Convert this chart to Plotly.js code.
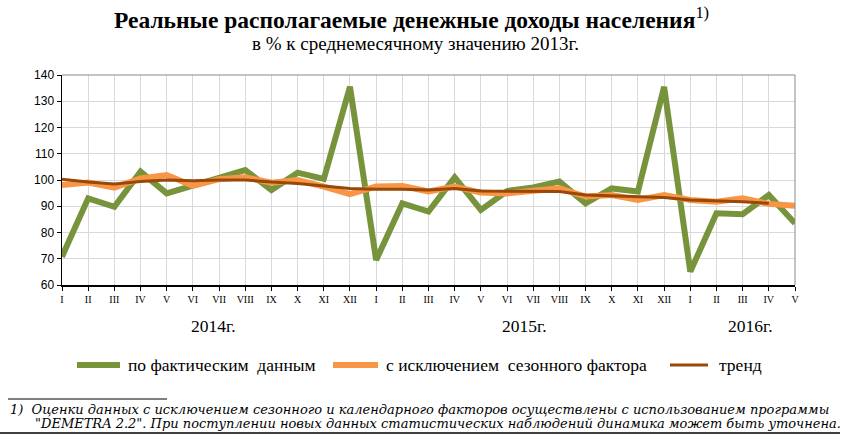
<!DOCTYPE html>
<html><head><meta charset="utf-8">
<script src="https://cdn.plot.ly/plotly-3.0.1.min.js"></script>
<style>html,body{margin:0;padding:0;background:#fff}#chart{width:845px;height:435px}</style>
</head><body><div id="chart"></div>
<script>
const months = ["I","II","III","IV","V","VI","VII","VIII","IX","X","XI","XII",
  "I","II","III","IV","V","VI","VII","VIII","IX","X","XI","XII",
  "I","II","III","IV","V"];
const actual = [70.8,93,89.8,103.2,94.9,97.8,100.6,103.8,96.2,102.8,100.4,135.5,
  69.5,91.1,88,101,88.6,95.8,97.2,99.4,91.1,96.8,95.6,135.5,
  65.1,87.3,87,94.3,83.5];
const seasonal = [98.1,99,97.1,100.6,101.9,97.8,100.3,101,99,100,97.5,94.6,
  97.5,97.7,95.6,97.5,95.2,94.9,95.9,96.8,93.7,94.3,92.4,94.3,
  92.4,91.7,93,90.9,90.2];
const trend = [100.3,99.2,98.5,99.4,100,99.7,100,100,99.2,98.7,97.7,96.8,
  96.5,96.5,96.2,96.8,95.8,95.8,95.8,95.6,94.3,94,93.7,93.3,
  92.4,92.1,91.7,91.1];
const years = ["2014г.","2015г.","2016г."];
const yearPos = [5.77,17.65,26.3];
const names = ["по фактическим  данным","с исключением  сезонного фактора","тренд"];
const colors = ['#77933C','#F79646','#984807'];
const widths = [6,6,3];

const W = 845, H = 435, ML = 62, MR = 50, MT = 75, MB = 150;
const pw = W - ML - MR, ph = H - MT - MB;
const px = v => (v - ML) / pw;
const py = v => (H - MB - v) / ph;

const idx = months.map((m,i)=>i);
const series = [actual, seasonal, trend];
const traces = series.map((s,k)=>({x: idx.slice(0,s.length), y: s, name: names[k], type:'scatter', mode:'lines',
  line:{color:colors[k], width:widths[k]}, showlegend:false}));

const serif = "'Liberation Serif', 'Times New Roman', serif";
const annotations = [];
annotations.push({xref:'paper', yref:'paper', x:px(112), y:py(18), xanchor:'left', yanchor:'middle', showarrow:false,
  text:'<b>Реальные располагаемые денежные доходы населения</b><sup>1)</sup>', font:{family:serif, size:23.5, color:'#000'}});
annotations.push({xref:'paper', yref:'paper', x:px(415), y:py(43), xanchor:'center', yanchor:'middle', showarrow:false,
  text:'в % к среднемесячному значению 2013г.', font:{family:serif, size:19, color:'#000'}});
years.forEach((t,i)=>annotations.push({x:yearPos[i], xref:'x', y:py(326), yref:'paper', text:t, showarrow:false,
  font:{family:serif, size:17.5, color:'#000'}, xanchor:'center', yanchor:'middle'}));
// legend
const swatch = [[77,120],[333,378],[670,708]];
const textX = [126,384,717];
const shapes = [
  {type:'line', xref:'paper', yref:'paper', x0:0, x1:1, y0:1, y1:1, line:{color:'#888', width:1}},
  {type:'line', xref:'paper', yref:'paper', x0:1, x1:1, y0:0, y1:1, line:{color:'#888', width:1}},
  {type:'line', xref:'paper', yref:'paper', x0:px(8), x1:px(167), y0:py(399), y1:py(399), line:{color:'#000', width:1}},
  {type:'line', xref:'paper', yref:'paper', x0:px(0), x1:px(840), y0:py(433), y1:py(433), line:{color:'#000', width:1.5}}
];
names.forEach((n,k)=>{
  shapes.push({type:'line', xref:'paper', yref:'paper', x0:px(swatch[k][0]), x1:px(swatch[k][1]), y0:py(365), y1:py(365),
    line:{color:colors[k], width:widths[k]}});
  annotations.push({xref:'paper', yref:'paper', x:px(textX[k]), y:py(365), xanchor:'left', yanchor:'middle', showarrow:false,
    text:n, font:{family:serif, size:17.5, color:'#000'}});
});
const noteFont = {family:"'DejaVu Serif', serif", size:13, color:'#000'};
annotations.push({xref:'paper', yref:'paper', x:px(8), y:py(409), xanchor:'left', yanchor:'middle', showarrow:false,
  text:'<i>1)  Оценки данных с исключением сезонного и календарного факторов осуществлены с использованием программы</i>', font:noteFont});
annotations.push({xref:'paper', yref:'paper', x:px(33), y:py(423), xanchor:'left', yanchor:'middle', showarrow:false,
  text:'<i>"DEMETRA 2.2". При поступлении новых данных статистических наблюдений динамика может быть уточнена.</i>', font:noteFont});

const layout = {
  width:W, height:H,
  margin:{l:ML, r:MR, t:MT, b:MB},
  paper_bgcolor:'#fff', plot_bgcolor:'#fff',
  xaxis:{range:[0,28], tickvals:idx, ticktext:months, tickfont:{family:serif, size:10, color:'#000'},
    showgrid:true, gridcolor:'#d9d9d9', gridwidth:1, showline:true, linecolor:'#000', linewidth:1.5,
    ticks:'outside', ticklen:4, tickcolor:'#000', zeroline:false, fixedrange:true},
  yaxis:{range:[60,140], dtick:10, tickfont:{family:"'Liberation Sans', Arial, sans-serif", size:12, color:'#000'},
    showgrid:true, gridcolor:'#d9d9d9', gridwidth:1, showline:true, linecolor:'#000', linewidth:1.5,
    ticks:'outside', ticklen:4, tickcolor:'#000', zeroline:false, fixedrange:true},
  shapes: shapes,
  showlegend:false,
  annotations: annotations
};
Plotly.newPlot('chart', traces, layout, {displayModeBar:false, staticPlot:true});
</script></body></html>
